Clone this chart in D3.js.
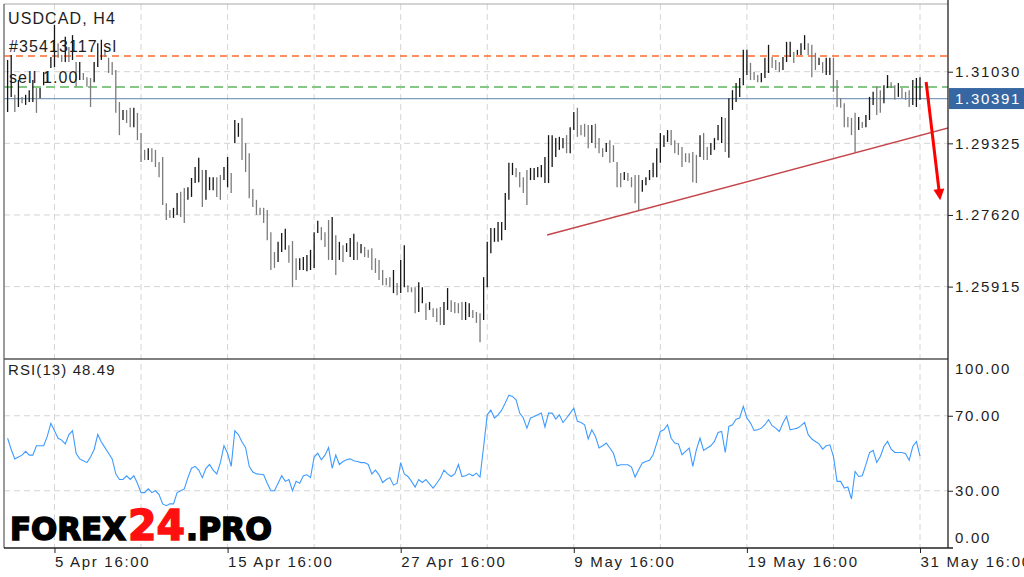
<!DOCTYPE html>
<html><head><meta charset="utf-8">
<script src="https://cdn.jsdelivr.net/npm/d3@7"></script>
<style>html,body{margin:0;padding:0;background:#fff;}svg{display:block;font-family:"Liberation Sans",Arial,sans-serif;}</style>
</head><body><svg id="c" width="1024" height="577"></svg>
<script>
// ---------------- DATA ----------------
const highs = [
1.3131,1.3143,1.3048,1.3083,1.3043,1.3048,1.3059,1.3083,1.3064,1.3064,
1.3102,1.3102,1.3138,1.3214,1.3171,1.3143,1.3186,1.3162,1.3190,1.3126,
1.3126,1.3100,1.3090,1.3088,1.3126,1.3171,1.3179,1.3155,1.3136,1.3126,
1.3107,1.3031,1.3012,1.3012,1.3017,1.3017,1.3005,1.2957,1.2917,1.2921,
1.2921,1.2917,1.2888,1.2900,1.2790,1.2774,1.2779,1.2814,1.2817,1.2826,
1.2828,1.2850,1.2876,1.2898,1.2869,1.2869,1.2852,1.2852,1.2852,1.2857,
1.2876,1.2900,1.2862,1.2988,1.2981,1.2993,1.2933,1.2909,1.2824,1.2798,
1.2779,1.2779,1.2774,1.2721,1.2674,1.2698,1.2719,1.2729,1.2690,1.2700,
1.2659,1.2659,1.2662,1.2667,1.2679,1.2721,1.2748,1.2733,1.2721,1.2750,
1.2757,1.2714,1.2698,1.2690,1.2695,1.2707,1.2717,1.2698,1.2693,1.2686,
1.2679,1.2683,1.2659,1.2655,1.2631,1.2612,1.2614,1.2631,1.2600,1.2655,
1.2690,1.2595,1.2590,1.2590,1.2602,1.2590,1.2552,1.2555,1.2540,1.2540,
1.2543,1.2555,1.2588,1.2559,1.2555,1.2552,1.2555,1.2555,1.2552,1.2536,
1.2531,1.2528,1.2614,1.2698,1.2731,1.2731,1.2745,1.2745,1.2814,1.2886,
1.2886,1.2874,1.2864,1.2852,1.2869,1.2874,1.2874,1.2876,1.2881,1.2900,
1.2952,1.2952,1.2945,1.2948,1.2945,1.2952,1.2971,1.3007,1.3017,1.2976,
1.2979,1.2976,1.2976,1.2979,1.2945,1.2921,1.2933,1.2940,1.2928,1.2888,
1.2862,1.2864,1.2862,1.2852,1.2857,1.2857,1.2845,1.2852,1.2869,1.2886,
1.2921,1.2957,1.2952,1.2964,1.2964,1.2940,1.2933,1.2924,1.2909,1.2909,
1.2912,1.2905,1.2952,1.2957,1.2924,1.2933,1.2945,1.2976,1.2995,1.2993,
1.3040,1.3059,1.3076,1.3088,1.3155,1.3155,1.3124,1.3102,1.3095,1.3100,
1.3136,1.3167,1.3138,1.3131,1.3126,1.3138,1.3174,1.3174,1.3150,1.3155,
1.3171,1.3190,1.3171,1.3167,1.3148,1.3136,1.3126,1.3136,1.3136,1.3136,
1.3083,1.3040,1.3028,1.2995,1.2993,1.3005,1.2995,1.2983,1.3000,1.3043,
1.3055,1.3067,1.3059,1.3071,1.3095,1.3078,1.3071,1.3076,1.3064,1.3055,
1.3059,1.3083,1.3088,1.3090];
const lows = [
1.3007,1.3043,1.3007,1.3019,1.3028,1.3024,1.3031,1.3031,1.3005,1.3040,
1.3071,1.3076,1.3112,1.3114,1.3136,1.3126,1.3126,1.3126,1.3131,1.3067,
1.3083,1.3083,1.3067,1.3019,1.3078,1.3114,1.3131,1.3138,1.3100,1.3095,
1.3005,1.2952,1.2988,1.2981,1.2971,1.2971,1.2940,1.2888,1.2893,1.2893,
1.2888,1.2876,1.2852,1.2786,1.2750,1.2755,1.2755,1.2762,1.2757,1.2743,
1.2798,1.2805,1.2838,1.2840,1.2781,1.2798,1.2821,1.2821,1.2805,1.2798,
1.2845,1.2828,1.2814,1.2933,1.2948,1.2893,1.2864,1.2802,1.2781,1.2762,
1.2762,1.2743,1.2702,1.2631,1.2636,1.2650,1.2674,1.2679,1.2648,1.2590,
1.2607,1.2631,1.2631,1.2628,1.2631,1.2636,1.2719,1.2702,1.2686,1.2655,
1.2655,1.2619,1.2655,1.2650,1.2674,1.2662,1.2655,1.2655,1.2671,1.2662,
1.2660,1.2631,1.2624,1.2607,1.2595,1.2595,1.2590,1.2576,1.2571,1.2576,
1.2590,1.2578,1.2578,1.2528,1.2531,1.2552,1.2512,1.2536,1.2519,1.2507,
1.2500,1.2500,1.2536,1.2531,1.2528,1.2528,1.2512,1.2512,1.2519,1.2517,
1.2505,1.2459,1.2512,1.2590,1.2671,1.2698,1.2698,1.2702,1.2726,1.2798,
1.2857,1.2852,1.2828,1.2814,1.2786,1.2845,1.2845,1.2852,1.2852,1.2838,
1.2838,1.2876,1.2900,1.2917,1.2921,1.2909,1.2909,1.2964,1.2948,1.2952,
1.2948,1.2921,1.2933,1.2921,1.2909,1.2900,1.2912,1.2886,1.2888,1.2828,
1.2828,1.2845,1.2843,1.2828,1.2790,1.2774,1.2817,1.2833,1.2845,1.2852,
1.2852,1.2886,1.2924,1.2936,1.2928,1.2909,1.2905,1.2876,1.2888,1.2886,
1.2840,1.2838,1.2900,1.2893,1.2893,1.2905,1.2917,1.2940,1.2933,1.2912,
1.2898,1.3012,1.3031,1.3043,1.3071,1.3095,1.3083,1.3083,1.3078,1.3078,
1.3088,1.3100,1.3112,1.3107,1.3102,1.3107,1.3126,1.3138,1.3124,1.3143,
1.3143,1.3155,1.3143,1.3090,1.3107,1.3119,1.3100,1.3095,1.3095,1.3055,
1.3019,1.3017,1.2971,1.2971,1.2952,1.2912,1.2964,1.2969,1.2971,1.2988,
1.3024,1.3000,1.3005,1.3028,1.3064,1.3064,1.3036,1.3043,1.3040,1.3036,
1.3019,1.3024,1.3019,1.3036];
const rsi = [
58,52,47,48,49,51,49,49,54,54,
54,59,66,62,58,57,55,60,62,50,
47,46,45,48,52,60,56,53,50,47,
39,36,36,38,36,38,34,29,29,31,
29,30,28,23,22,23,23,29,30,31,
37,42,43,41,37,42,44,41,39,45,
54,50,43,62,60,56,53,43,40,39,
38.8,38.5,34,30,30,34,38,35,36,30,
35,34,38,38.5,37,48,50,46.5,49,53,
42,49,44,45.6,46.5,47,46,45.6,45,45,
44,39,41,38.5,34.4,36,37,33,34,45,
39,37.6,35,32,36,34.4,36,33.7,31.4,34,
36.8,41,39,37.6,39,44,37.6,38,39,38,
39.4,37.3,53.6,70.5,73,68.8,70.5,73,76.8,81,
80.3,78.5,71.4,68.8,63.4,68.8,69.6,70.5,71.4,64,
71.4,71.4,68.2,70.5,66.4,68.8,71.4,74,67,66.4,
65.2,57.6,62.5,59,52.8,54,55.4,52.8,50,43.3,
43.9,43.9,43.9,42.6,37.3,41.2,44.8,45.6,46.2,49.2,
55.4,61.6,62.5,65.2,58,55.4,55,49.2,51,52.8,
43,51.9,58,51.5,52.8,54,56.3,61.1,61.6,50.4,
64.3,65.2,68.2,68.8,75,68.8,66.1,62.2,62.5,63.4,
65.2,67.9,64.7,63.4,61.6,66.1,69.6,62.5,62.9,63.4,
64.7,66.4,59.9,57.6,56.3,55,52.2,54,54.5,48.3,
35,35,31.4,32,25.6,40.3,37.6,38,43.9,50.4,
51.5,45.1,48.3,53.6,56.3,52.2,50.4,50.4,50.4,49.7,
46.2,53.6,56.3,48.49];
const priceTicks = [1.31030, 1.29325, 1.27620, 1.25915];
const rsiTicks = [100, 70, 30, 0];
const rsiGrid = [70, 30];
const timeTickIdx = [13, 61, 109, 157, 205, 253];
const timeLabels = ["5 Apr 16:00","15 Apr 16:00","27 Apr 16:00","9 May 16:00","19 May 16:00","31 May 16:00"];
const gridIdx = [13,37,61,85,109,133,157,181,205,229,253];
const lastPrice = 1.30391;
const stopPrice = 1.31404;
const entryPrice = 1.30666;
const trendLine = [[149.6, 1.27142], [274.4, 1.30000]];
const forecastArrow = [[254.7, 1.30785], [258.6, 1.27973]];
const symbolTitle = "USDCAD, H4";
const orderLabel = "#35413117 sl";
const orderLabel2 = "sell 1.00";
const rsiLabel = "RSI(13) 48.49";

// ---------------- LAYOUT ----------------
const L = 4, R = 948, T = 4, MB = 359, RB = 548;
const svg = d3.select("#c");
const x = d3.scaleLinear().domain([0, 253]).range([7.6, 920]);
const yP = d3.scaleLinear().domain([1.25915, 1.31030]).range([286.6, 71.7]);
const yR = d3.scaleLinear().domain([0, 100]).range([547, 359.5]);

const defs = svg.append("defs");
defs.append("clipPath").attr("id","cm").append("rect").attr("x",L).attr("y",T).attr("width",R-L).attr("height",MB-T);
defs.append("clipPath").attr("id","cr").append("rect").attr("x",L).attr("y",MB).attr("width",R-L).attr("height",RB-MB);

const gridColor = "#d4d4d4";
// vertical grid
svg.append("g").selectAll("line").data(gridIdx).join("line")
  .attr("x1", d => x(d)).attr("x2", d => x(d)).attr("y1", T).attr("y2", RB)
  .attr("stroke", gridColor).attr("stroke-dasharray", "6,4");
// horizontal price grid
svg.append("g").selectAll("line").data(priceTicks).join("line")
  .attr("x1", L).attr("x2", R).attr("y1", d => yP(d)).attr("y2", d => yP(d))
  .attr("stroke", gridColor).attr("stroke-dasharray", "6,4");
svg.append("g").selectAll("line").data(rsiGrid).join("line")
  .attr("x1", L).attr("x2", R).attr("y1", d => yR(d)).attr("y2", d => yR(d))
  .attr("stroke", gridColor).attr("stroke-dasharray", "6,4");

const main = svg.append("g").attr("clip-path", "url(#cm)");
// order lines
main.append("line").attr("x1", L).attr("x2", R).attr("y1", yP(stopPrice)).attr("y2", yP(stopPrice))
  .attr("stroke", "#ff6a2e").attr("stroke-width", 1.3).attr("stroke-dasharray", "7,5");
main.append("line").attr("x1", L).attr("x2", R).attr("y1", yP(entryPrice)).attr("y2", yP(entryPrice))
  .attr("stroke", "#85c785").attr("stroke-width", 2).attr("stroke-dasharray", "9,5");
main.append("line").attr("x1", L).attr("x2", R).attr("y1", yP(lastPrice)).attr("y2", yP(lastPrice))
  .attr("stroke", "#7f9dbd").attr("stroke-width", 1.2);

// bars
const bars = highs.map((h, i) => ({i, h, l: lows[i]}));
main.append("g").selectAll("line").data(bars).join("line")
  .attr("x1", d => x(d.i)).attr("x2", d => x(d.i))
  .attr("y1", d => yP(d.h)).attr("y2", d => yP(d.l))
  .attr("stroke", d => (d.i > 0 && (d.h + d.l) < (highs[d.i-1] + lows[d.i-1])) ? "#7b7b7b" : "#151515")
  .attr("stroke-width", 1.3);

// trend line
main.append("line")
  .attr("x1", x(trendLine[0][0])).attr("y1", yP(trendLine[0][1]))
  .attr("x2", x(trendLine[1][0])).attr("y2", yP(trendLine[1][1]))
  .attr("stroke", "#c4464c").attr("stroke-width", 1.4);

// forecast arrow
{
  const x1 = x(forecastArrow[0][0]), y1 = yP(forecastArrow[0][1]);
  const x2 = x(forecastArrow[1][0]), y2 = yP(forecastArrow[1][1]);
  const len = Math.hypot(x2-x1, y2-y1), ux = (x2-x1)/len, uy = (y2-y1)/len;
  const hl = 11, hw = 5.5;
  const bx = x2 - ux*hl, by = y2 - uy*hl;
  main.append("line").attr("x1", x1).attr("y1", y1).attr("x2", bx + ux*1).attr("y2", by + uy*1)
    .attr("stroke", "#ff0000").attr("stroke-width", 3);
  main.append("path")
    .attr("d", `M${x2},${y2}L${bx - uy*hw},${by + ux*hw}L${bx + uy*hw},${by - ux*hw}Z`)
    .attr("fill", "#ff0000");
}

// RSI
const rsiG = svg.append("g").attr("clip-path", "url(#cr)");
rsiG.append("path").datum(rsi)
  .attr("d", d3.line().x((d, i) => x(i)).y(d => yR(d)))
  .attr("fill", "none").attr("stroke", "#3f9bff").attr("stroke-width", 1.1);

// frame
svg.append("line").attr("x1", L).attr("x2", R).attr("y1", T).attr("y2", T).attr("stroke", "#a8a8a8");
svg.append("line").attr("x1", L).attr("x2", L).attr("y1", T).attr("y2", RB).attr("stroke", "#7a7a7a").attr("stroke-width", 1.5);
svg.append("line").attr("x1", L).attr("x2", R).attr("y1", MB).attr("y2", MB).attr("stroke", "#555").attr("stroke-width", 1.3);
svg.append("line").attr("x1", L).attr("x2", R + 5).attr("y1", RB).attr("y2", RB).attr("stroke", "#222").attr("stroke-width", 1.3);
svg.append("line").attr("x1", R).attr("x2", R).attr("y1", 0).attr("y2", RB).attr("stroke", "#222").attr("stroke-width", 1.3);

const txtColor = "#1e1e1e";
// price axis
const pa = svg.append("g").attr("transform", `translate(${R},0)`)
  .call(d3.axisRight(yP).tickValues(priceTicks).tickFormat(d3.format(".5f")).tickSize(5).tickPadding(2));
pa.select(".domain").remove();
pa.selectAll("line").attr("stroke", "#222");
pa.selectAll("text").attr("font-size", 15).attr("font-family", "Liberation Sans, Arial, sans-serif")
  .attr("letter-spacing", "1.7px").attr("fill", txtColor);

// last price box
svg.append("rect").attr("x", R + 1).attr("y", yP(lastPrice) - 10.5).attr("width", 1024 - R - 1).attr("height", 21)
  .attr("fill", "#3767a3");
svg.append("text").attr("x", R + 7).attr("y", yP(lastPrice)).attr("dy", "0.35em")
  .attr("font-size", 15).attr("letter-spacing", "1.7px").attr("fill", "#fff").text(d3.format(".5f")(lastPrice));

// RSI axis
const ra = svg.append("g").attr("transform", `translate(${R},0)`)
  .call(d3.axisRight(yR).tickValues(rsiTicks).tickFormat(d3.format(".2f")).tickSize(5).tickPadding(2));
ra.select(".domain").remove();
ra.selectAll("line").attr("stroke", "#222");
ra.selectAll("text").attr("font-size", 15).attr("letter-spacing", "1.7px").attr("fill", txtColor)
  .attr("y", d => d === 100 ? 9.5 : (d === 0 ? -9 : 0));
ra.selectAll(".tick line").filter(d => d === 100 || d === 0).remove();

// time axis
const ta = svg.append("g").attr("transform", `translate(0,${RB})`)
  .call(d3.axisBottom(x).tickValues(timeTickIdx).tickFormat((d, i) => timeLabels[i]).tickSize(5).tickPadding(3));
ta.select(".domain").remove();
ta.selectAll("line").attr("stroke", "#222");
ta.selectAll("text").attr("text-anchor", "start").attr("font-size", 15).attr("letter-spacing", "1.7px").attr("fill", txtColor);

// texts
svg.append("text").attr("x", 8).attr("y", 24).attr("font-size", 16).attr("letter-spacing", "1.1px").attr("fill", txtColor).text(symbolTitle);
svg.append("text").attr("x", 9).attr("y", 52).attr("font-size", 16).attr("letter-spacing", "1.1px").attr("fill", txtColor).text(orderLabel);
svg.append("text").attr("x", 9).attr("y", 83).attr("font-size", 16).attr("letter-spacing", "1.1px").attr("fill", txtColor).text(orderLabel2);
svg.append("text").attr("x", 8).attr("y", 375).attr("font-size", 15).attr("letter-spacing", "1.1px").attr("fill", txtColor).text(rsiLabel);

// logo
const logo = svg.append("g").attr("font-family", "DejaVu Sans, sans-serif").attr("font-weight", "bold");
logo.append("text").attr("x", 10).attr("y", 540).attr("font-size", 32).attr("textLength", 116).attr("lengthAdjust", "spacingAndGlyphs")
  .attr("fill", "#000").attr("stroke", "#000").attr("stroke-width", 1.6).text("FOREX");
logo.append("text").attr("x", 128).attr("y", 540).attr("font-size", 43).attr("textLength", 57).attr("lengthAdjust", "spacingAndGlyphs")
  .attr("fill", "#ff1010").attr("stroke", "#ff1010").attr("stroke-width", 1.6).text("24");
logo.append("text").attr("x", 186).attr("y", 540).attr("font-size", 32).attr("textLength", 86).attr("lengthAdjust", "spacingAndGlyphs")
  .attr("fill", "#000").attr("stroke", "#000").attr("stroke-width", 1.6).text(".PRO");
</script></body></html>
